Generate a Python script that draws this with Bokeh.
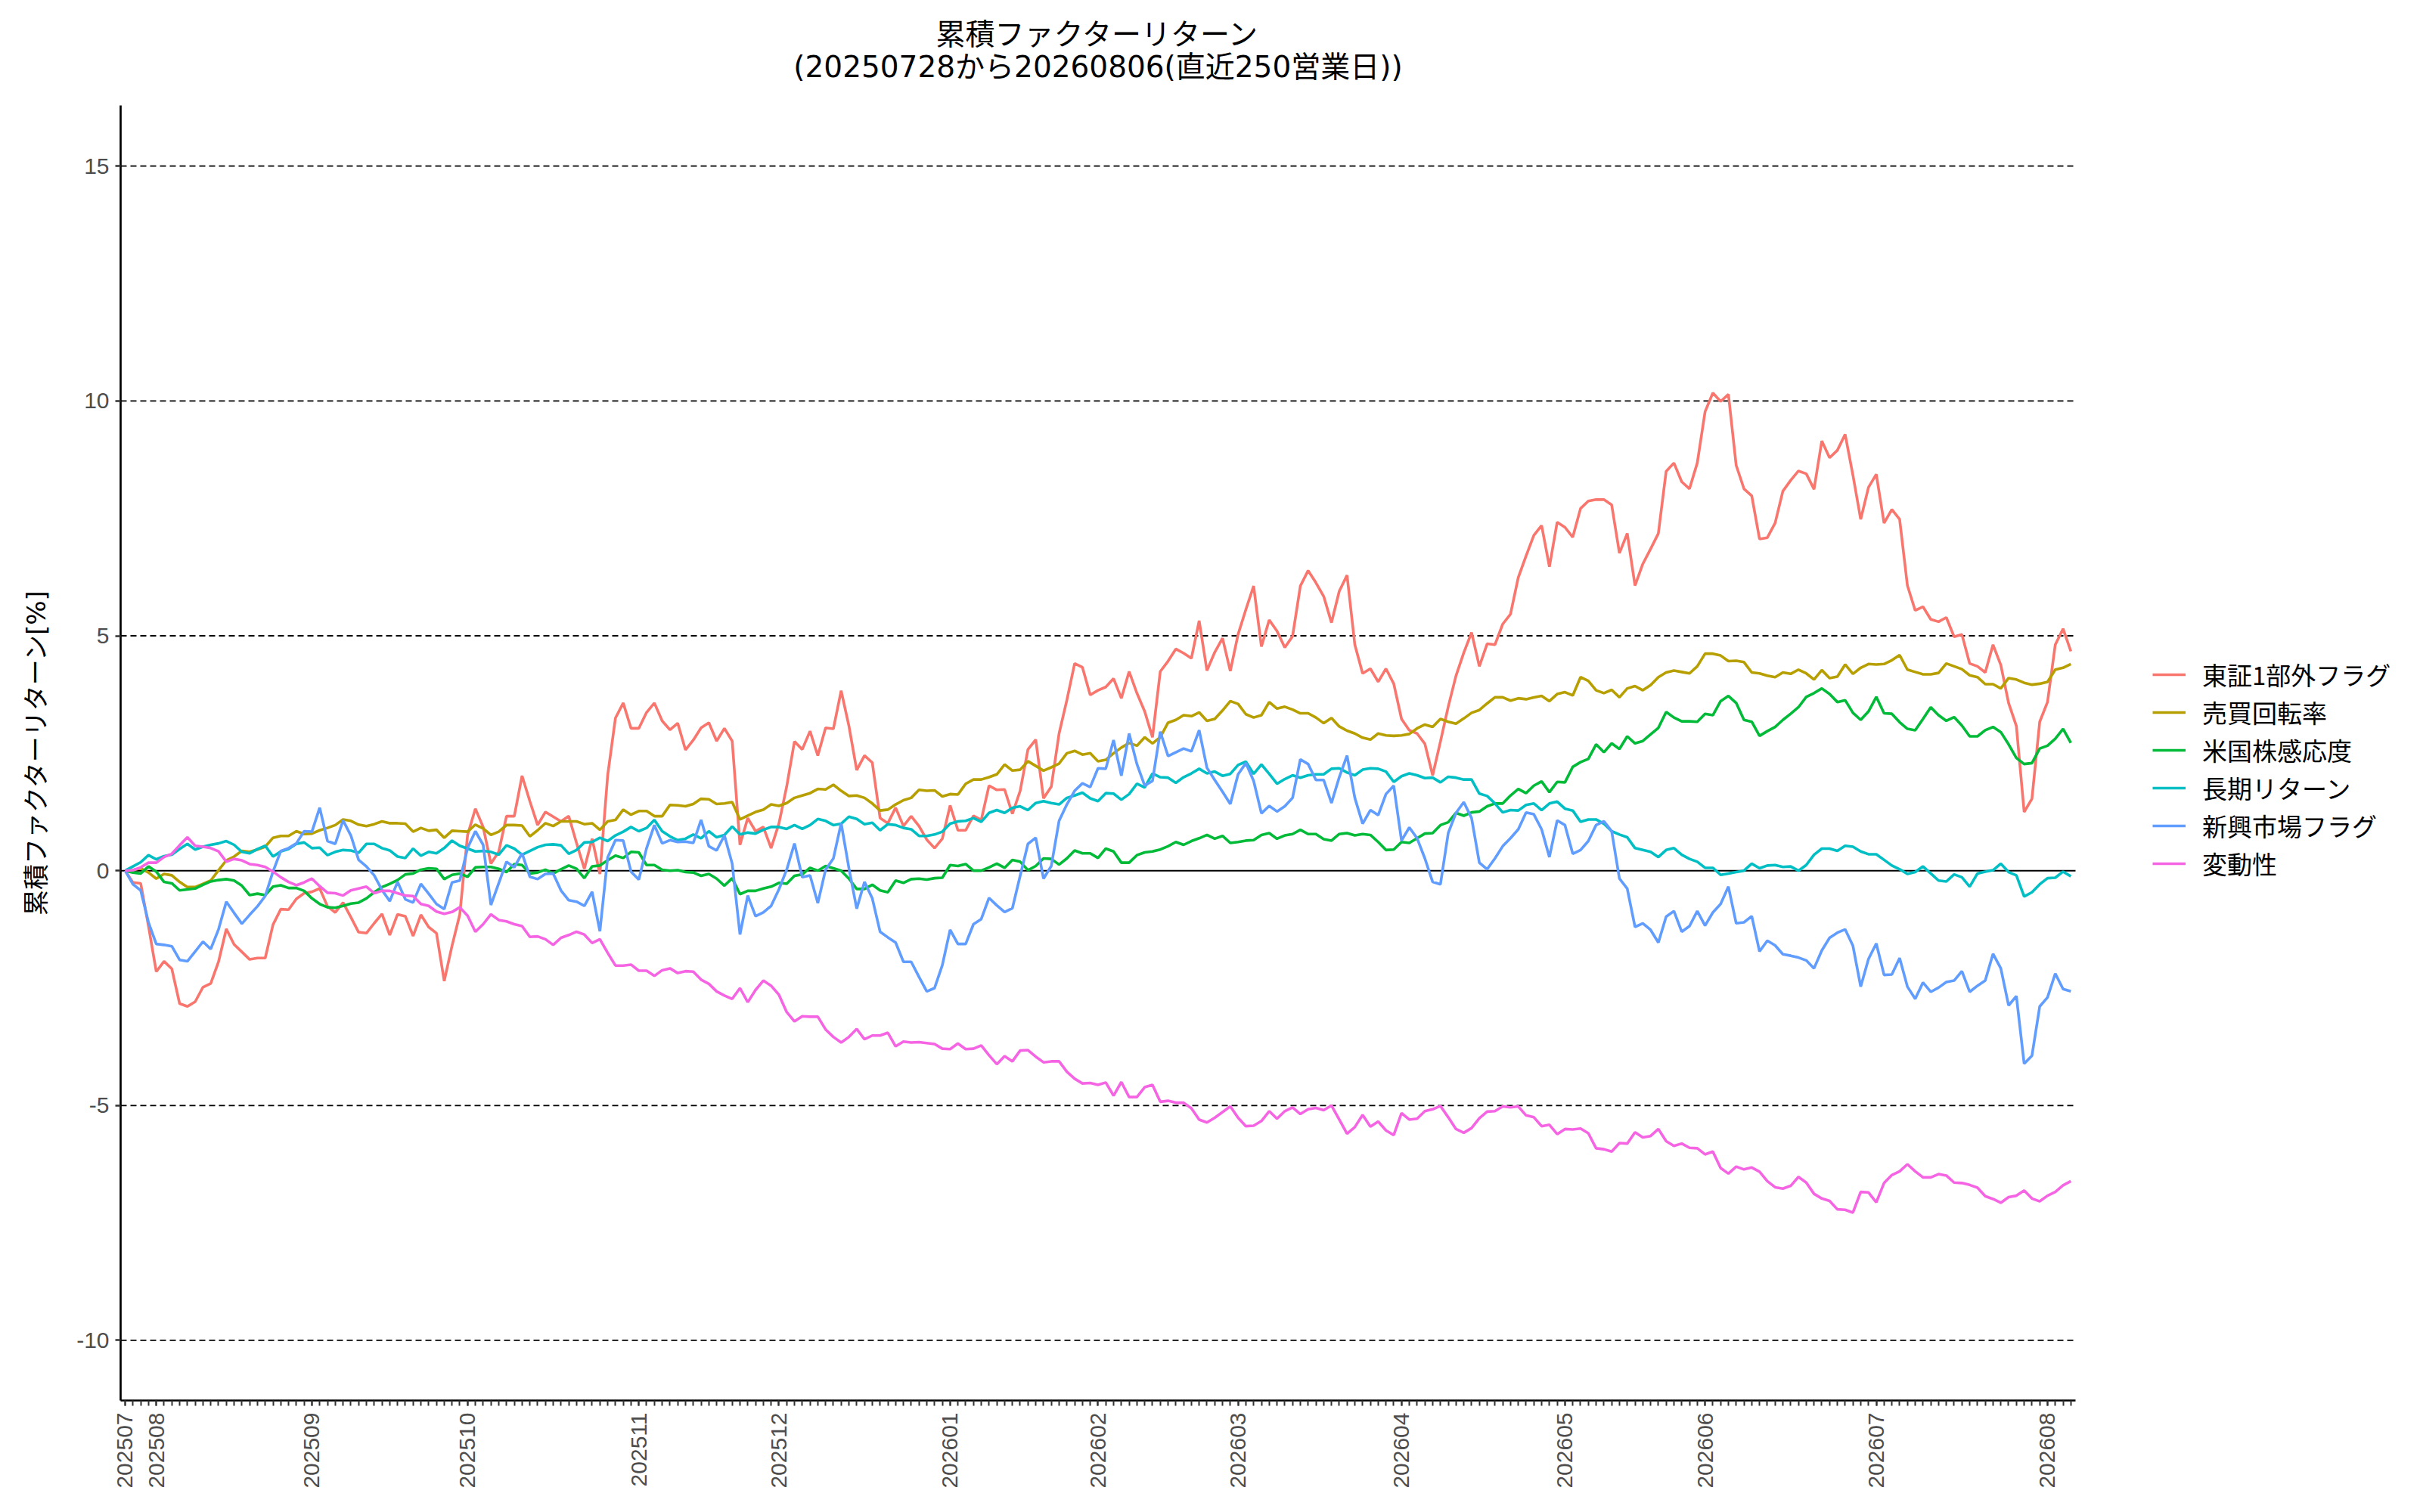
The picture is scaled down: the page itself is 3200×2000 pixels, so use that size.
import math
from bokeh.plotting import figure
from bokeh.models import FixedTicker, Legend, LegendItem, Label
from bokeh.embed import file_html
from bokeh.resources import INLINE

# ---------------- data ----------------
title_line1 = "累積ファクターリターン"
title_line2 = "(20250728から20260806(直近250営業日))"
y_label = "累積ファクターリターン[%]"

series_names = ["東証1部外フラグ", "売買回転率", "米国株感応度", "長期リターン", "新興市場フラグ", "変動性"]
series_colors = ["#F8766D", "#B79F00", "#00BA38", "#00BFC4", "#619CFF", "#F564E3"]

month_labels = ["202507", "202508", "202509", "202510", "202511", "202512", "202601",
                "202602", "202603", "202604", "202605", "202606", "202607", "202608"]
month_start_idx = [0, 4, 24, 44, 66, 84, 106, 125, 143, 164, 185, 203, 225, 247]

y_ticks = [-10, -5, 0, 5, 10, 15]
y_tick_labels = ["-10", "-5", "0", "5", "10", "15"]

tosho_flag = [
    0, -0.25, -0.27, -1.18, -2.15, -1.93, -2.09, -2.83, -2.89, -2.79, -2.48, -2.40, -1.94, -1.24, -1.57,
    -1.73, -1.89, -1.86, -1.86, -1.15, -0.82, -0.83, -0.60, -0.48, -0.45, -0.38, -0.76, -0.89, -0.68,
    -0.99, -1.31, -1.33, -1.12, -0.92, -1.37, -0.93, -0.97, -1.39, -0.94, -1.20, -1.33,
    -2.35, -1.60, -0.93, 0.76, 1.32, 0.93, 0.15, 0.40, 1.16, 1.16, 2.02, 1.48, 0.97, 1.25, 1.15, 1.05,
    1.16, 0.59, 0.04, 0.68, -0.07, 2.03, 3.25, 3.57, 3.03, 3.03, 3.37, 3.57, 3.19, 3.00, 3.14, 2.57,
    2.78, 3.04, 3.15, 2.76, 3.03, 2.76, 0.55, 1.12, 0.84, 0.93, 0.48, 1.00,
    1.79, 2.75, 2.58, 2.97, 2.45, 3.04, 3.02, 3.83, 3.08, 2.14, 2.45, 2.30, 1.12, 1.01, 1.34, 0.95,
    1.16, 0.95, 0.66, 0.48, 0.68, 1.39, 0.86, 0.86, 1.17, 1.08, 1.81, 1.72, 1.73, 1.21, 1.70, 2.58,
    2.79, 1.54, 1.79, 2.92, 3.63, 4.41, 4.33, 3.74,
    3.84, 3.91, 4.09, 3.67, 4.24, 3.78, 3.39, 2.84, 4.24, 4.46, 4.72, 4.63, 4.52, 5.32, 4.26, 4.65,
    4.95, 4.25, 5.03, 5.56, 6.06, 4.77, 5.34, 5.10, 4.75, 4.99, 6.06, 6.39, 6.13, 5.84, 5.28, 5.95,
    6.29, 4.81, 4.20, 4.30, 4.02, 4.30, 3.98, 3.23, 2.99, 2.92, 2.70, 2.03,
    2.75, 3.49, 4.15, 4.64, 5.07, 4.35, 4.83, 4.81, 5.25, 5.46, 6.24, 6.70, 7.14, 7.35, 6.47, 7.42,
    7.31, 7.10, 7.71, 7.87, 7.90, 7.90, 7.79, 6.76, 7.18, 6.07, 6.53, 6.85, 7.18, 8.50, 8.68, 8.28,
    8.13, 8.68, 9.77, 10.17, 9.99, 10.14, 8.63, 8.13, 7.98, 7.06,
    7.09, 7.40, 8.08, 8.31, 8.51, 8.45, 8.12, 9.15, 8.79, 8.95, 9.29, 8.42, 7.48, 8.16, 8.44, 7.40,
    7.69, 7.48, 6.07, 5.54, 5.62, 5.35, 5.30, 5.39, 4.98, 5.03, 4.41, 4.35, 4.22, 4.81, 4.38, 3.57,
    3.08, 1.25, 1.53, 3.17, 3.59, 4.81, 5.15, 4.67,
]

turnover = [
    0, 0.01, 0.05, -0.04, -0.17, -0.07, -0.10, -0.24, -0.35, -0.35, -0.28, -0.21, 0.01, 0.22, 0.30,
    0.42, 0.40, 0.45, 0.51, 0.70, 0.74, 0.74, 0.84, 0.78, 0.79, 0.86, 0.91, 0.97, 1.09, 1.06, 0.98,
    0.95, 0.99, 1.05, 1.01, 1.01, 1.00, 0.83, 0.91, 0.85, 0.87,
    0.70, 0.85, 0.84, 0.83, 0.98, 0.90, 0.76, 0.83, 0.97, 0.97, 0.96, 0.73, 0.86, 1.01, 0.95, 1.05,
    1.05, 1.05, 0.99, 1.01, 0.87, 1.05, 1.08, 1.30, 1.19, 1.27, 1.27, 1.16, 1.16, 1.40, 1.39, 1.37,
    1.42, 1.53, 1.52, 1.42, 1.43, 1.46, 1.09, 1.17, 1.25, 1.30, 1.41, 1.38,
    1.44, 1.55, 1.60, 1.65, 1.74, 1.73, 1.83, 1.70, 1.59, 1.60, 1.55, 1.43, 1.28, 1.30, 1.41, 1.50,
    1.55, 1.72, 1.70, 1.71, 1.58, 1.63, 1.62, 1.85, 1.94, 1.94, 1.99, 2.05, 2.26, 2.13, 2.15, 2.33,
    2.23, 2.13, 2.20, 2.28, 2.50, 2.55, 2.47, 2.50,
    2.33, 2.36, 2.50, 2.62, 2.72, 2.66, 2.84, 2.71, 2.84, 3.15, 3.21, 3.31, 3.29, 3.37, 3.19, 3.23,
    3.41, 3.61, 3.55, 3.33, 3.26, 3.31, 3.59, 3.45, 3.49, 3.43, 3.35, 3.35, 3.26, 3.14, 3.25, 3.07,
    2.98, 2.92, 2.83, 2.79, 2.92, 2.88, 2.87, 2.88, 2.91, 3.03, 3.11, 3.06,
    3.23, 3.17, 3.13, 3.24, 3.36, 3.42, 3.56, 3.69, 3.69, 3.62, 3.67, 3.65, 3.69, 3.72, 3.61, 3.76,
    3.80, 3.73, 4.12, 4.04, 3.84, 3.78, 3.85, 3.69, 3.88, 3.93, 3.84, 3.95, 4.12, 4.22, 4.26, 4.23,
    4.20, 4.35, 4.62, 4.62, 4.58, 4.46, 4.47, 4.44, 4.22, 4.20,
    4.15, 4.12, 4.22, 4.19, 4.28, 4.20, 4.07, 4.27, 4.10, 4.13, 4.39, 4.19, 4.32, 4.40, 4.39, 4.40,
    4.48, 4.59, 4.28, 4.23, 4.18, 4.18, 4.21, 4.41, 4.35, 4.29, 4.16, 4.12, 3.97, 3.97, 3.88, 4.10,
    4.07, 4.00, 3.96, 3.98, 4.02, 4.28, 4.32, 4.40,
]

us_beta = [
    0, -0.04, -0.06, 0.09, -0.02, -0.24, -0.27, -0.42, -0.40, -0.38, -0.30, -0.23, -0.20, -0.18,
    -0.21, -0.32, -0.52, -0.49, -0.52, -0.34, -0.31, -0.37, -0.37, -0.43, -0.59, -0.71, -0.78, -0.79,
    -0.75, -0.70, -0.68, -0.59, -0.46, -0.35, -0.28, -0.20, -0.08, -0.06, 0.02, 0.05, 0.04,
    -0.18, -0.09, -0.06, -0.13, 0.07, 0.08, 0.08, 0.04, -0.03, 0.14, 0.12, -0.06, -0.04, 0.02, -0.06,
    0.03, 0.11, 0.04, -0.16, 0.09, 0.11, 0.22, 0.32, 0.27, 0.40, 0.39, 0.12, 0.12, 0.02, 0.00, 0.01,
    -0.03, -0.04, -0.11, -0.07, -0.17, -0.32, -0.16, -0.50, -0.43, -0.43, -0.38, -0.34, -0.26,
    -0.28, -0.11, -0.08, 0.06, 0.00, 0.10, 0.05, 0.00, -0.17, -0.39, -0.39, -0.30, -0.42, -0.46,
    -0.21, -0.26, -0.18, -0.17, -0.19, -0.16, -0.15, 0.12, 0.10, 0.14, 0.00, 0.00, 0.07, 0.15, 0.06,
    0.23, 0.19, 0.01, 0.10, 0.26, 0.25, 0.13, 0.26, 0.43, 0.37, 0.37,
    0.27, 0.47, 0.41, 0.17, 0.17, 0.33, 0.39, 0.41, 0.45, 0.52, 0.61, 0.55, 0.63, 0.69, 0.76, 0.68,
    0.74, 0.59, 0.61, 0.64, 0.65, 0.76, 0.80, 0.68, 0.75, 0.78, 0.87, 0.78, 0.78, 0.67, 0.64, 0.78,
    0.80, 0.75, 0.78, 0.76, 0.61, 0.44, 0.45, 0.61, 0.59, 0.69, 0.79, 0.80,
    0.97, 1.03, 1.23, 1.17, 1.24, 1.26, 1.37, 1.43, 1.43, 1.60, 1.74, 1.65, 1.81, 1.90, 1.67, 1.89,
    1.88, 2.21, 2.31, 2.38, 2.69, 2.52, 2.71, 2.59, 2.86, 2.71, 2.76, 2.90, 3.04, 3.38, 3.26, 3.18,
    3.18, 3.17, 3.34, 3.31, 3.61, 3.72, 3.57, 3.21, 3.17, 2.87,
    2.97, 3.06, 3.21, 3.34, 3.48, 3.70, 3.78, 3.88, 3.76, 3.59, 3.63, 3.36, 3.21, 3.39, 3.70, 3.35,
    3.34, 3.16, 3.02, 2.99, 3.23, 3.48, 3.31, 3.19, 3.27, 3.09, 2.86, 2.86, 2.99, 3.06, 2.95, 2.69,
    2.40, 2.27, 2.29, 2.60, 2.66, 2.81, 3.02, 2.72,
]

long_return = [
    0, 0.09, 0.18, 0.33, 0.24, 0.31, 0.34, 0.46, 0.57, 0.45, 0.51, 0.55, 0.58, 0.63, 0.55, 0.40,
    0.37, 0.46, 0.53, 0.30, 0.41, 0.46, 0.57, 0.60, 0.48, 0.49, 0.33, 0.40, 0.44, 0.43, 0.38, 0.57,
    0.57, 0.48, 0.43, 0.30, 0.27, 0.47, 0.32, 0.40, 0.37,
    0.48, 0.64, 0.53, 0.47, 0.41, 0.42, 0.40, 0.34, 0.54, 0.47, 0.34, 0.42, 0.50, 0.55, 0.56, 0.54,
    0.36, 0.44, 0.60, 0.61, 0.70, 0.63, 0.75, 0.83, 0.93, 0.84, 0.91, 1.08, 0.84, 0.73, 0.65, 0.68,
    0.77, 0.69, 0.84, 0.71, 0.76, 0.94, 0.77, 0.81, 0.79, 0.87, 0.93, 0.93,
    0.89, 0.97, 0.89, 0.97, 1.10, 1.06, 0.97, 1.00, 1.15, 1.10, 0.99, 1.02, 0.86, 0.99, 0.97, 0.91,
    0.88, 0.74, 0.74, 0.77, 0.83, 1.00, 1.05, 1.06, 1.12, 1.04, 1.23, 1.29, 1.23, 1.34, 1.37, 1.29,
    1.44, 1.48, 1.44, 1.41, 1.55, 1.60, 1.66, 1.54,
    1.48, 1.65, 1.64, 1.51, 1.63, 1.85, 1.77, 2.07, 1.99, 1.98, 1.87, 1.99, 2.07, 2.17, 2.07, 2.11,
    2.02, 2.06, 2.25, 2.32, 2.06, 2.26, 2.06, 1.85, 1.95, 2.03, 1.98, 2.03, 2.05, 2.05, 2.17, 2.18,
    2.09, 2.03, 2.15, 2.18, 2.17, 2.11, 1.89, 2.01, 2.07, 2.03, 1.97, 1.98,
    1.88, 2.00, 1.98, 1.94, 1.94, 1.64, 1.59, 1.43, 1.24, 1.29, 1.28, 1.40, 1.43, 1.29, 1.43, 1.47,
    1.32, 1.28, 1.04, 1.09, 1.09, 1.00, 0.84, 0.77, 0.71, 0.48, 0.44, 0.40, 0.29, 0.44, 0.48, 0.34,
    0.25, 0.19, 0.06, 0.06, -0.09, -0.06, -0.03, 0.00, 0.15, 0.05,
    0.11, 0.12, 0.08, 0.09, 0.00, 0.12, 0.34, 0.47, 0.47, 0.42, 0.53, 0.51, 0.41, 0.35, 0.35, 0.23,
    0.11, 0.03, -0.07, -0.03, 0.09, -0.06, -0.21, -0.23, -0.08, -0.14, -0.34, -0.06, -0.02, 0.01,
    0.15, -0.03, -0.10, -0.55, -0.46, -0.29, -0.16, -0.15, -0.02, -0.12,
]

emerging_flag = [
    0, -0.29, -0.42, -1.10, -1.56, -1.58, -1.61, -1.90, -1.93, -1.72, -1.51, -1.67, -1.25, -0.66,
    -0.90, -1.13, -0.94, -0.76, -0.54, -0.02, 0.42, 0.48, 0.58, 0.84, 0.83, 1.34, 0.63, 0.57, 1.07,
    0.75, 0.23, 0.09, -0.10, -0.41, -0.65, -0.24, -0.61, -0.68, -0.28, -0.49, -0.71,
    -0.82, -0.25, -0.21, 0.48, 0.84, 0.55, -0.73, -0.27, 0.19, 0.07, 0.37, -0.13, -0.18, -0.07, -0.06,
    -0.42, -0.63, -0.66, -0.75, -0.45, -1.29, 0.28, 0.65, 0.64, -0.02, -0.19, 0.48, 0.97, 0.58, 0.65,
    0.61, 0.62, 0.59, 1.08, 0.52, 0.43, 0.75, 0.15, -1.36, -0.53, -0.97, -0.89, -0.75, -0.40,
    0.02, 0.58, -0.14, -0.10, -0.69, 0.02, 0.26, 1.01, 0.05, -0.81, -0.24, -0.59, -1.30, -1.42, -1.53,
    -1.94, -1.94, -2.26, -2.57, -2.50, -2.01, -1.26, -1.56, -1.56, -1.14, -1.03, -0.58, -0.74, -0.88,
    -0.80, -0.11, 0.57, 0.70, -0.17, 0.10, 1.06, 1.41, 1.70, 1.86, 1.78,
    2.18, 2.17, 2.78, 2.02, 2.92, 2.27, 1.81, 1.91, 2.96, 2.44, 2.52, 2.60, 2.54, 2.99, 2.19, 1.93,
    1.68, 1.42, 2.05, 2.29, 1.91, 1.22, 1.38, 1.26, 1.37, 1.55, 2.37, 2.27, 1.93, 1.93, 1.44, 1.99,
    2.45, 1.55, 1.00, 1.29, 1.18, 1.63, 1.81, 0.64, 0.92, 0.69, 0.26, -0.24,
    -0.29, 0.80, 1.23, 1.46, 1.12, 0.17, 0.03, 0.26, 0.52, 0.69, 0.88, 1.24, 1.20, 0.88, 0.29, 1.07,
    0.97, 0.36, 0.44, 0.63, 0.97, 1.05, 0.84, -0.17, -0.38, -1.20, -1.12, -1.26, -1.53, -0.98, -0.86,
    -1.30, -1.18, -0.86, -1.17, -0.89, -0.71, -0.34, -1.12, -1.10, -0.97, -1.72,
    -1.49, -1.59, -1.78, -1.81, -1.85, -1.91, -2.08, -1.70, -1.43, -1.32, -1.25, -1.60, -2.47, -1.88,
    -1.55, -2.22, -2.21, -1.86, -2.47, -2.73, -2.38, -2.58, -2.49, -2.37, -2.34, -2.14, -2.58, -2.45,
    -2.34, -1.77, -2.08, -2.87, -2.67, -4.11, -3.94, -2.89, -2.70, -2.19, -2.52, -2.57,
]

volatility = [
    0, 0.01, 0.07, 0.17, 0.17, 0.29, 0.36, 0.54, 0.71, 0.53, 0.51, 0.48, 0.41, 0.19, 0.25, 0.22,
    0.14, 0.12, 0.08, -0.02, -0.14, -0.24, -0.31, -0.25, -0.17, -0.33, -0.47, -0.48, -0.53, -0.42,
    -0.38, -0.34, -0.48, -0.43, -0.43, -0.48, -0.53, -0.54, -0.71, -0.75, -0.87,
    -0.92, -0.88, -0.78, -0.96, -1.30, -1.14, -0.93, -1.05, -1.08, -1.14, -1.18, -1.41, -1.40, -1.46,
    -1.58, -1.43, -1.37, -1.30, -1.36, -1.54, -1.46, -1.75, -2.02, -2.02, -2.00, -2.13, -2.13, -2.24,
    -2.12, -2.08, -2.18, -2.14, -2.15, -2.32, -2.41, -2.57, -2.66, -2.73, -2.50, -2.80, -2.54, -2.34,
    -2.45, -2.64,
    -3.01, -3.21, -3.10, -3.11, -3.11, -3.38, -3.54, -3.66, -3.54, -3.37, -3.59, -3.51, -3.51, -3.45,
    -3.74, -3.64, -3.66, -3.65, -3.67, -3.69, -3.79, -3.80, -3.68, -3.80, -3.79, -3.72, -3.93, -4.12,
    -3.95, -4.06, -3.83, -3.82, -3.96, -4.08, -4.06, -4.06, -4.28, -4.43, -4.53, -4.52,
    -4.56, -4.51, -4.79, -4.50, -4.82, -4.82, -4.61, -4.56, -4.92, -4.90, -4.94, -4.94, -5.06, -5.30,
    -5.36, -5.26, -5.14, -5.02, -5.26, -5.44, -5.43, -5.33, -5.12, -5.28, -5.12, -5.04, -5.18, -5.08,
    -5.05, -5.10, -5.00, -5.30, -5.60, -5.46, -5.20, -5.45, -5.34, -5.53, -5.63, -5.16, -5.30, -5.28,
    -5.12, -5.08,
    -5.01, -5.25, -5.50, -5.58, -5.48, -5.27, -5.13, -5.12, -5.02, -5.04, -5.02, -5.21, -5.25, -5.44,
    -5.41, -5.61, -5.50, -5.51, -5.49, -5.59, -5.91, -5.93, -5.98, -5.80, -5.81, -5.57, -5.68, -5.65,
    -5.50, -5.76, -5.86, -5.81, -5.90, -5.91, -6.04, -5.98, -6.33, -6.45, -6.30, -6.36, -6.32, -6.41,
    -6.61, -6.74, -6.77, -6.71, -6.52, -6.64, -6.88, -6.98, -7.03, -7.21, -7.22, -7.28, -6.84, -6.85,
    -7.06, -6.65, -6.48, -6.40, -6.25, -6.40, -6.53, -6.53, -6.46, -6.49, -6.64, -6.65, -6.69, -6.75,
    -6.93, -6.99, -7.07, -6.95, -6.92, -6.81, -6.98, -7.04, -6.92, -6.84, -6.70, -6.61,
]

series_values = [tosho_flag, turnover, us_beta, long_return, emerging_flag, volatility]

# ---------------- layout constants (pixels) ----------------
TITLE_FONT = "DejaVu Sans, Noto Sans CJK JP"
TICK_FONT = "Liberation Sans, Noto Sans CJK JP"
CJK_FONT = "Noto Sans CJK JP"
n_days = max(len(s) for s in series_values)

FIG_W, FIG_H = 3184, 1984
LEFT, RIGHT_PAD, BOTTOM = 159, 10, 132
PX_PER_DAY = 10.2914
PX_PER_UNIT = 62.13
x_lo, x_hi = -0.58, n_days - 0.4          # visible axis extent
y_lo, y_hi = -11.28, 16.29                # visible axis extent
frame_w = FIG_W - LEFT - RIGHT_PAD
frame_h = FIG_H - BOTTOM
x_end = x_lo + frame_w / PX_PER_DAY       # frame extends under the legend
y_end = y_lo + frame_h / PX_PER_UNIT      # frame extends under the title

p = figure(width=FIG_W, height=FIG_H, output_backend="svg", toolbar_location=None, title=None,
           x_range=(x_lo, x_end), y_range=(y_lo, y_end),
           min_border_left=LEFT, min_border_right=RIGHT_PAD, min_border_top=0,
           min_border_bottom=BOTTOM)
p.background_fill_color = "white"
p.border_fill_color = "white"
p.outline_line_color = None
p.xgrid.visible = False
p.ygrid.visible = False

# title (two centred lines above the axes)
x_mid = (x_lo + x_hi) / 2
for txt, off_px in [(title_line1, 139 - 45), (title_line2, 139 - 88)]:
    p.add_layout(Label(x=x_mid, y=y_hi + off_px / PX_PER_UNIT, text=txt,
                       text_align="center", text_baseline="middle",
                       text_font=TITLE_FONT, text_font_size="39px", text_color="black"))

# horizontal reference lines limited to the axes extent
dash_ticks = [t for t in y_ticks if t != 0]
p.segment(x0=[x_lo] * len(dash_ticks), x1=[x_hi] * len(dash_ticks), y0=dash_ticks, y1=dash_ticks,
          line_color="black", line_width=1.8, line_dash="8 5")
p.segment(x0=[x_lo], x1=[x_hi], y0=[0], y1=[0], line_color="black", line_width=2)

# x axis
day_ticks = list(range(n_days))
p.xaxis.bounds = (x_lo, x_hi)
p.xaxis.ticker = FixedTicker(ticks=month_start_idx, minor_ticks=day_ticks)
p.xaxis.major_label_overrides = {i: lab for i, lab in zip(month_start_idx, month_labels)}
p.xaxis.major_label_orientation = math.pi / 2
p.xaxis.axis_line_color = "black"
p.xaxis.axis_line_width = 2.7
p.xaxis.major_tick_in = 0
p.xaxis.major_tick_out = 7
p.xaxis.minor_tick_in = 0
p.xaxis.minor_tick_out = 7
p.xaxis.major_tick_line_width = 2
p.xaxis.minor_tick_line_width = 2
p.xaxis.major_tick_line_color = "#333333"
p.xaxis.minor_tick_line_color = "#333333"
p.xaxis.major_label_standoff = 9
p.xaxis.major_label_text_font = TICK_FONT
p.xaxis.major_label_text_font_size = "30px"
p.xaxis.major_label_text_color = "#4D4D4D"

# y axis
p.yaxis.bounds = (y_lo, y_hi)
p.yaxis.ticker = FixedTicker(ticks=y_ticks)
p.yaxis.major_label_overrides = {t: s for t, s in zip(y_ticks, y_tick_labels)}
p.yaxis.axis_line_color = "black"
p.yaxis.axis_line_width = 2.7
p.yaxis.major_tick_in = 0
p.yaxis.major_tick_out = 7
p.yaxis.major_tick_line_width = 2.5
p.yaxis.major_tick_line_color = "#333333"
p.yaxis.minor_tick_line_color = None
p.yaxis.major_label_standoff = 8
p.yaxis.major_label_text_font = TICK_FONT
p.yaxis.major_label_text_font_size = "30px"
p.yaxis.major_label_text_color = "#4D4D4D"
# the label is centred on the full (extended) frame; trailing ideographic spaces move
# the visible text down to the centre of the drawn axis
p.yaxis.axis_label = y_label + "\u3000" * 4
p.yaxis.axis_label_text_font = TITLE_FONT
p.yaxis.axis_label_text_font_size = "34px"
p.yaxis.axis_label_text_font_style = "normal"
p.yaxis.axis_label_text_color = "black"
p.yaxis.axis_label_standoff = 30

# lines
items = []
for name, color, vals in zip(series_names, series_colors, series_values):
    r = p.line(x=list(range(len(vals))), y=vals, line_color=color, line_width=3.6)
    items.append(LegendItem(label=name, renderers=[r]))

legend = Legend(items=items, location=(2687, 685), orientation="vertical",
                glyph_width=44, glyph_height=50, label_height=50, label_standoff=22,
                spacing=0, padding=0, margin=0, border_line_color=None,
                background_fill_alpha=0, label_text_font=CJK_FONT,
                label_text_font_size="33px", label_text_color="black")
p.add_layout(legend)

open("out.html", "w").write(file_html(p, INLINE))
